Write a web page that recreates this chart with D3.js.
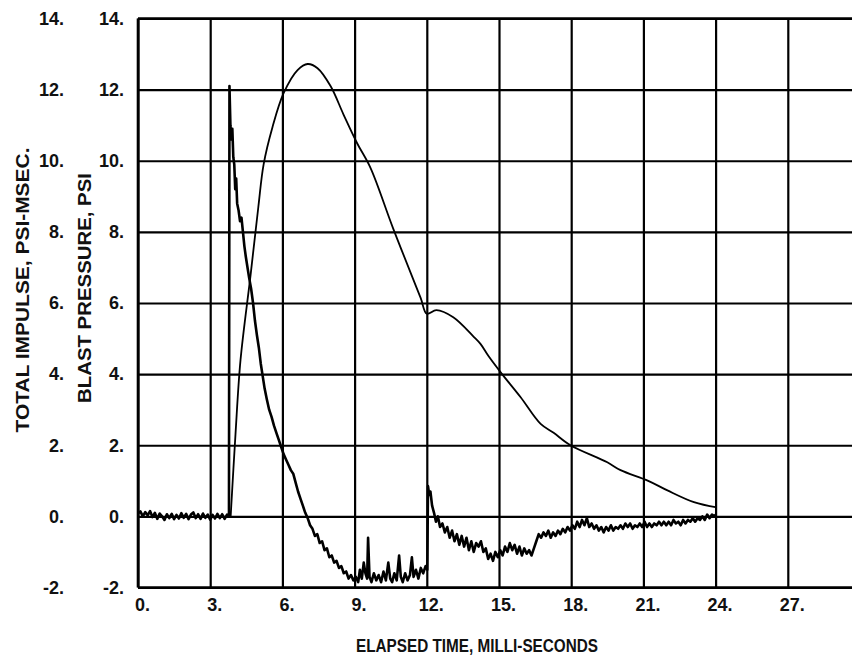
<!DOCTYPE html>
<html><head><meta charset="utf-8">
<script src="https://cdn.jsdelivr.net/npm/d3@7"></script>
<style>
html,body{margin:0;padding:0;background:#fff;}
text{font-family:"Liberation Sans",Arial,sans-serif;font-weight:bold;fill:#111;}
</style></head>
<body><svg id="c" width="852" height="662"></svg>
<script>
// ---- data ----
const xTicks = [0, 3, 6, 9, 12, 15, 18, 21, 24, 27];
const yTicks = [-2, 0, 2, 4, 6, 8, 10, 12, 14];
const impulseTickLabels = ["-2.", "0.", "2.", "4.", "6.", "8.", "10.", "12.", "14."];
const pressureTickLabels = ["-2.", "0.", "2.", "4.", "6.", "8.", "10.", "12.", "14."];
const xTitle = "ELAPSED TIME, MILLI-SECONDS";
const impulseTitle = "TOTAL IMPULSE, PSI-MSEC.";
const pressureTitle = "BLAST PRESSURE, PSI";

// total impulse curve [time ms, psi-msec]
const impulse = [
 [3.85,0],[4.05,2.3],[4.26,4.4],[4.68,6.8],[5.0,8.7],[5.22,9.9],[5.59,10.95],[6.05,11.9],
 [6.63,12.55],[7.05,12.72],[7.46,12.6],[8.0,12.1],[8.54,11.3],[9.1,10.5],[9.66,9.8],
 [10.6,8.1],[11.74,6.15],[12.0,5.7],[12.4,5.8],[13.1,5.6],[13.95,5.05],[14.23,4.85],
 [14.57,4.5],[15.07,4.05],[15.9,3.35],[16.73,2.6],[17.27,2.35],[17.97,2.0],[19.5,1.52],
 [20.05,1.3],[21.2,1.0],[22.0,0.73],[23.1,0.4],[24.05,0.25]
];

// blast pressure trace [time ms, psi]
const pressure = [
 [0.0,0.08],[0.1,0.14],[0.2,0.0],[0.3,0.12],[0.4,0.03],[0.5,0.15],[0.6,-0.02],[0.7,0.1],[0.8,-0.07],[0.9,0.08],
 [1.0,0.0],[1.1,-0.1],[1.2,0.06],[1.3,-0.05],[1.4,0.07],[1.5,-0.08],[1.6,0.04],[1.7,-0.06],[1.8,0.09],[1.9,-0.04],
 [2.0,0.07],[2.1,-0.08],[2.2,0.05],[2.3,0.11],[2.4,-0.05],[2.5,0.06],[2.6,-0.07],[2.7,0.08],[2.8,-0.04],[2.9,0.05],
 [3.0,-0.09],[3.1,0.04],[3.2,-0.06],[3.3,0.07],[3.4,-0.05],[3.5,0.06],[3.6,-0.07],[3.7,0.05],[3.78,0.0],
 [3.8,12.1],[3.84,11.0],[3.88,10.6],[3.92,10.9],[3.96,10.1],[4.0,9.9],[4.04,9.2],[4.08,9.5],[4.12,8.8],[4.18,8.6],
 [4.24,8.3],[4.3,8.4],[4.36,8.0],[4.42,7.6],[4.48,7.3],[4.55,7.0],[4.62,6.7],[4.7,6.4],[4.78,6.0],[4.86,5.5],
 [4.94,5.1],[5.02,4.75],[5.1,4.3],[5.18,3.95],[5.26,3.6],[5.35,3.3],[5.45,3.0],[5.55,2.8],[5.65,2.55],[5.75,2.35],
 [5.85,2.15],[5.95,1.95],[6.05,1.75],[6.15,1.6],[6.25,1.45],[6.35,1.3],[6.45,1.2],[6.55,0.95],[6.65,0.7],[6.75,0.5],
 [6.85,0.3],[6.95,0.1],[7.05,-0.05],[7.15,-0.25],[7.25,-0.35],[7.35,-0.55],[7.45,-0.5],[7.55,-0.75],[7.65,-0.7],
 [7.75,-0.95],[7.85,-0.9],[7.95,-1.15],[8.05,-1.1],[8.15,-1.3],[8.25,-1.25],[8.35,-1.45],[8.45,-1.4],[8.55,-1.6],
 [8.65,-1.55],[8.75,-1.75],[8.85,-1.65],[8.95,-1.8],[9.05,-1.7],[9.15,-1.85],[9.22,-1.5],[9.3,-1.75],[9.38,-1.3],
 [9.45,-1.6],[9.52,-1.75],[9.56,-0.6],[9.62,-1.7],[9.7,-1.85],[9.8,-1.6],[9.9,-1.8],[10.0,-1.65],[10.1,-1.85],
 [10.2,-1.55],[10.3,-1.8],[10.4,-1.3],[10.48,-1.75],[10.56,-1.85],[10.65,-1.6],[10.75,-1.8],[10.85,-1.1],[10.92,-1.7],
 [11.0,-1.85],[11.1,-1.6],[11.2,-1.8],[11.3,-1.65],[11.38,-1.15],[11.45,-1.7],[11.55,-1.5],[11.65,-1.75],[11.75,-1.45],
 [11.85,-1.6],[11.95,-1.4],[12.02,-1.5],[12.05,0.85],[12.1,0.6],[12.15,0.7],[12.22,0.3],[12.3,0.1],[12.38,-0.15],
 [12.46,0.0],[12.55,-0.3],[12.65,-0.2],[12.75,-0.45],[12.85,-0.3],[12.95,-0.6],[13.05,-0.4],[13.15,-0.7],[13.25,-0.5],
 [13.35,-0.8],[13.45,-0.55],[13.55,-0.85],[13.65,-0.6],[13.75,-0.95],[13.85,-0.7],[13.95,-1.0],[14.05,-0.75],
 [14.15,-0.85],[14.25,-0.7],[14.35,-1.0],[14.45,-0.9],[14.55,-1.2],[14.65,-1.05],[14.75,-1.25],[14.85,-1.0],
 [14.95,-1.15],[15.05,-0.95],[15.15,-1.1],[15.25,-0.85],[15.35,-1.0],[15.45,-0.75],[15.55,-0.95],[15.65,-0.8],
 [15.75,-1.05],[15.85,-0.85],[15.95,-1.1],[16.05,-0.9],[16.15,-1.05],[16.25,-0.95],[16.35,-1.1],[16.45,-0.9],
 [16.55,-0.7],[16.65,-0.5],[16.75,-0.6],[16.85,-0.45],[16.95,-0.55],[17.05,-0.4],[17.15,-0.6],[17.25,-0.45],
 [17.35,-0.55],[17.45,-0.4],[17.55,-0.5],[17.65,-0.35],[17.75,-0.45],[17.85,-0.3],[17.95,-0.4],[18.05,-0.25],
 [18.15,-0.35],[18.25,-0.15],[18.35,-0.3],[18.45,-0.1],[18.55,-0.25],[18.65,-0.05],[18.75,-0.3],[18.85,-0.2],
 [18.95,-0.35],[19.05,-0.25],[19.15,-0.4],[19.25,-0.3],[19.35,-0.45],[19.45,-0.3],[19.55,-0.4],[19.65,-0.25],
 [19.75,-0.4],[19.85,-0.3],[19.95,-0.35],[20.05,-0.25],[20.15,-0.35],[20.25,-0.2],[20.35,-0.3],[20.45,-0.2],
 [20.55,-0.35],[20.65,-0.25],[20.75,-0.3],[20.85,-0.2],[20.95,-0.3],[21.05,-0.15],[21.15,-0.3],[21.25,-0.2],
 [21.35,-0.3],[21.45,-0.2],[21.55,-0.25],[21.65,-0.15],[21.75,-0.25],[21.85,-0.15],[21.95,-0.25],[22.05,-0.15],
 [22.15,-0.25],[22.25,-0.1],[22.35,-0.2],[22.45,-0.15],[22.55,-0.25],[22.65,-0.1],[22.75,-0.2],[22.85,-0.1],
 [22.95,-0.15],[23.05,-0.05],[23.15,-0.15],[23.25,-0.05],[23.35,-0.1],[23.45,0.0],[23.55,-0.1],[23.65,0.05],
 [23.75,-0.05],[23.85,0.05],[23.95,0.0],[24.0,0.05]
];

// ---- drawing ----
const svg = d3.select("#c");
const x = d3.scaleLinear().domain([0, 30]).range([138, 860]);
const y = d3.scaleLinear().domain([-2, 14]).range([587.5, 18.5]);
const W = 852;
const FS = 18;

const gx = svg.append("g").attr("transform", `translate(0,${y(-2)})`)
  .call(d3.axisBottom(x).tickValues(xTicks).tickSize(-(y(-2) - y(14))).tickPadding(11)
    .tickFormat(d => d + "."));
gx.select(".domain").remove();
gx.selectAll(".tick line").attr("stroke", "#000").attr("stroke-width", 2.2);
gx.selectAll(".tick text").attr("font-size", FS).attr("dx", 4).attr("fill", "#111");

const gy = svg.append("g").attr("transform", `translate(${x(0)},0)`)
  .call(d3.axisLeft(y).tickValues(yTicks).tickSize(-(W - x(0))).tickPadding(14)
    .tickFormat((d, i) => pressureTickLabels[i]));
gy.select(".domain").remove();
gy.selectAll(".tick line").attr("stroke", "#000").attr("stroke-width", 2.2);
gy.selectAll(".tick text").attr("font-size", FS).attr("fill", "#111");

const gy2 = svg.append("g").attr("transform", `translate(64,0)`)
  .call(d3.axisLeft(y).tickValues(yTicks).tickSize(0).tickPadding(0)
    .tickFormat((d, i) => impulseTickLabels[i]));
gy2.select(".domain").remove();
gy2.selectAll(".tick text").attr("font-size", FS).attr("fill", "#111");

// borders
svg.append("line").attr("x1", x(0)).attr("x2", W).attr("y1", y(14)).attr("y2", y(14))
  .attr("stroke", "#000").attr("stroke-width", 2.6);
svg.append("line").attr("x1", x(0)).attr("x2", W).attr("y1", y(-2)).attr("y2", y(-2))
  .attr("stroke", "#000").attr("stroke-width", 2.6);
svg.append("line").attr("x1", x(0)).attr("x2", x(0)).attr("y1", y(14)).attr("y2", y(-2))
  .attr("stroke", "#000").attr("stroke-width", 2.6);

svg.append("path").datum(impulse)
  .attr("d", d3.line().x(d => x(d[0])).y(d => y(d[1])).curve(d3.curveCatmullRom.alpha(0.5)))
  .attr("fill", "none").attr("stroke", "#000").attr("stroke-width", 1.8);
svg.append("path").datum(pressure).attr("d", d3.line().x(d => x(d[0])).y(d => y(d[1])))
  .attr("fill", "none").attr("stroke", "#000").attr("stroke-width", 2.6).attr("stroke-linejoin", "round");

// titles
svg.append("text").attr("x", 477).attr("y", 652).attr("text-anchor", "middle")
  .attr("font-size", 19).attr("textLength", 242).attr("lengthAdjust", "spacingAndGlyphs").text(xTitle);
svg.append("text").attr("transform", "translate(29,290) rotate(-90)").attr("text-anchor", "middle")
  .attr("font-size", 18).attr("textLength", 285).attr("lengthAdjust", "spacingAndGlyphs").text(impulseTitle);
svg.append("text").attr("transform", "translate(91,288) rotate(-90)").attr("text-anchor", "middle")
  .attr("font-size", 18).attr("textLength", 230).attr("lengthAdjust", "spacingAndGlyphs").text(pressureTitle);
</script></body></html>
